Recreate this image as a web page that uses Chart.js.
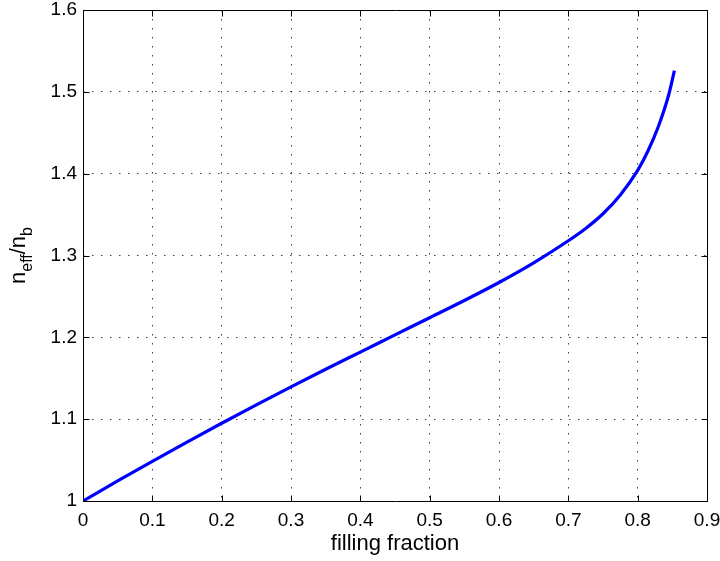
<!DOCTYPE html>
<html>
<head>
<meta charset="utf-8">
<script src="https://cdn.jsdelivr.net/npm/chart.js@4.4.0/dist/chart.umd.min.js"></script>
<style>
  html, body { margin: 0; padding: 0; background: #fff; }
  #wrap { width: 720px; height: 561px; }
</style>
</head>
<body>
<div id="wrap"><canvas id="neff"></canvas></div>
<script>
// effective index ratio vs filling fraction
var fraction = [0, 0.05, 0.1, 0.15, 0.2, 0.25, 0.3, 0.35, 0.4, 0.45, 0.5, 0.55, 0.6, 0.65, 0.7, 0.725, 0.75, 0.775, 0.8, 0.815, 0.83, 0.845, 0.853];
var neffRatio = [1.000, 1.0245, 1.0485, 1.072, 1.095, 1.1175, 1.1395, 1.161, 1.182, 1.203, 1.224, 1.245, 1.267, 1.291, 1.318, 1.333, 1.351, 1.374, 1.404, 1.428, 1.458, 1.497, 1.526];

var xTicks = [0, 0.1, 0.2, 0.3, 0.4, 0.5, 0.6, 0.7, 0.8, 0.9];
var xTickLabels = ['0', '0.1', '0.2', '0.3', '0.4', '0.5', '0.6', '0.7', '0.8', '0.9'];
var yTicks = [1, 1.1, 1.2, 1.3, 1.4, 1.5, 1.6];
var yTickLabels = ['1', '1.1', '1.2', '1.3', '1.4', '1.5', '1.6'];

var xTitle = 'filling fraction';
// y title pieces: [text, subscript?]
var yTitle = [['n', false], ['eff', true], ['/', false], ['n', false], ['b', true]];

var FONT = '"Liberation Sans", Arial, Helvetica, sans-serif';

var points = fraction.map(function (f, i) { return { x: f, y: neffRatio[i] }; });

// matlab-ish box: frame, inward ticks, labels
var axesBox = {
  id: 'axesBox',
  afterDraw: function (chart) {
    var ctx = chart.ctx, a = chart.chartArea;
    var xs = chart.scales.x, ys = chart.scales.y;
    var L = Math.round(a.left) + 0.5, R = Math.round(a.right) + 0.5;
    var T = Math.round(a.top) + 0.5, B = Math.round(a.bottom) + 0.5;
    ctx.save();
    ctx.strokeStyle = '#000';
    ctx.lineWidth = 1;
    ctx.beginPath();
    ctx.rect(L, T, R - L, B - T);
    xTicks.forEach(function (v) {
      var px = Math.round(xs.getPixelForValue(v)) + 0.5;
      ctx.moveTo(px, B); ctx.lineTo(px, B - 6);
      ctx.moveTo(px, T); ctx.lineTo(px, T + 6);
    });
    yTicks.forEach(function (v) {
      var py = Math.round(ys.getPixelForValue(v)) + 0.5;
      ctx.moveTo(L, py); ctx.lineTo(L + 6, py);
      ctx.moveTo(R, py); ctx.lineTo(R - 6, py);
    });
    ctx.stroke();

    ctx.fillStyle = '#000';
    ctx.font = '19px ' + FONT;
    ctx.textBaseline = 'middle';
    ctx.textAlign = 'center';
    xTicks.forEach(function (v, i) {
      ctx.fillText(xTickLabels[i], xs.getPixelForValue(v), a.bottom + 20);
    });
    ctx.textAlign = 'right';
    yTicks.forEach(function (v, i) {
      ctx.fillText(yTickLabels[i], a.left - 6, ys.getPixelForValue(v));
    });

    ctx.font = '22px ' + FONT;
    ctx.textAlign = 'center';
    ctx.textBaseline = 'alphabetic';
    ctx.fillText(xTitle, (a.left + a.right) / 2, 550);

    // rotated y title with subscripts
    var mainFont = '22px ' + FONT, subFont = '16px ' + FONT;
    var total = 0;
    yTitle.forEach(function (p) {
      ctx.font = p[1] ? subFont : mainFont;
      total += ctx.measureText(p[0]).width;
    });
    ctx.translate(25, (a.top + a.bottom) / 2);
    ctx.rotate(-Math.PI / 2);
    ctx.textAlign = 'left';
    var pos = -total / 2;
    yTitle.forEach(function (p) {
      ctx.font = p[1] ? subFont : mainFont;
      ctx.fillText(p[0], pos, p[1] ? 7 : 0);
      pos += ctx.measureText(p[0]).width;
    });
    ctx.restore();
  }
};

var gridOpts = {
  color: function (c) {
    var last = c.scale.ticks.length - 1;
    return (c.index === 0 || c.index === last) ? 'rgba(0,0,0,0)' : 'rgba(0,0,0,0.75)';
  },
  lineWidth: 1,
  drawTicks: false
};

new Chart(document.getElementById('neff'), {
  type: 'line',
  data: {
    datasets: [{
      data: points,
      borderColor: '#0000ff',
      borderWidth: 3.2,
      pointRadius: 0,
      fill: false,
      cubicInterpolationMode: 'monotone'
    }]
  },
  options: {
    responsive: true,
    maintainAspectRatio: false,
    animation: false,
    events: [],
    layout: { padding: { left: 0, top: 10, right: 13, bottom: 0 } },
    plugins: { legend: { display: false }, tooltip: { enabled: false } },
    scales: {
      x: {
        type: 'linear', min: 0, max: 0.9,
        afterBuildTicks: function (s) { s.ticks = xTicks.map(function (v) { return { value: v }; }); },
        afterFit: function (s) { s.height = 60; },
        ticks: { display: false },
        grid: gridOpts,
        border: { display: false, dash: [1.5, 7.5] }
      },
      y: {
        type: 'linear', min: 1, max: 1.6,
        afterBuildTicks: function (s) { s.ticks = yTicks.map(function (v) { return { value: v }; }); },
        afterFit: function (s) { s.width = 83; },
        ticks: { display: false },
        grid: gridOpts,
        border: { display: false, dash: [1.5, 7.5] }
      }
    }
  },
  plugins: [axesBox]
});
</script>
</body>
</html>
